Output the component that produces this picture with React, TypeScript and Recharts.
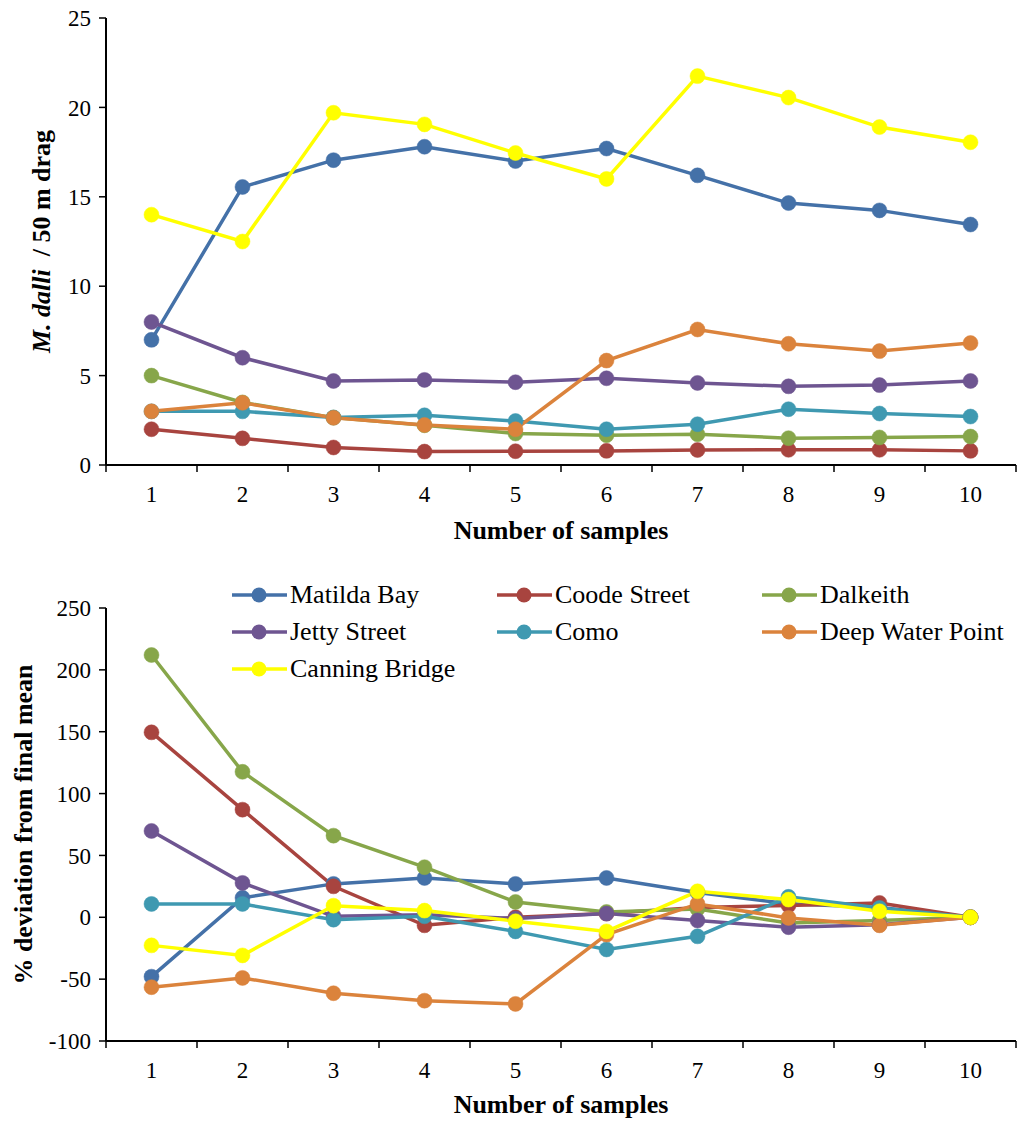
import React from 'react';
import { LineChart, Line, XAxis, YAxis } from 'recharts';

const FONT = '"Liberation Serif", "Times New Roman", serif';

// x categories (sample number) and half-step positions for the tick marks between them
const samples = [1, 2, 3, 4, 5, 6, 7, 8, 9, 10];
const xTicks = [0.5, 1, 1.5, 2, 2.5, 3, 3.5, 4, 4.5, 5, 5.5, 6, 6.5, 7, 7.5, 8, 8.5, 9, 9.5, 10, 10.5];

const siteNames = ['Matilda Bay', 'Coode Street', 'Dalkeith', 'Jetty Street', 'Como', 'Deep Water Point', 'Canning Bridge'];
const siteColors = ['#4471A8', '#A8443F', '#87A64A', '#6E5591', '#3F99B1', '#DB833C', '#FFFF00'];

// top panel: M. dalli / 50 m drag
const meanMatilda = [7, 15.55, 17.05, 17.8, 17, 17.7, 16.2, 14.65, 14.24, 13.45];
const meanCoode = [2, 1.49, 0.98, 0.75, 0.77, 0.79, 0.84, 0.85, 0.85, 0.79];
const meanDalkeith = [5, 3.5, 2.65, 2.22, 1.76, 1.67, 1.72, 1.5, 1.54, 1.59];
const meanJetty = [8, 6, 4.7, 4.76, 4.63, 4.85, 4.59, 4.4, 4.47, 4.7];
const meanComo = [3, 3, 2.66, 2.78, 2.46, 2, 2.28, 3.12, 2.88, 2.71];
const meanDeep = [3, 3.48, 2.64, 2.24, 2, 5.84, 7.58, 6.78, 6.37, 6.82];
const meanCanning = [14, 12.5, 19.7, 19.05, 17.45, 16, 21.75, 20.55, 18.9, 18.05];

// bottom panel: % deviation from final mean
const devMatilda = [-48, 15.7, 27, 31.8, 27, 31.8, 20, 11, 8, 0];
const devCoode = [149.5, 87, 25, -6.5, 0, 3, 8, 9.5, 11.6, 0];
const devDalkeith = [212, 117.6, 66, 40.5, 12.4, 4.3, 6.7, -4.6, -2.6, 0];
const devJetty = [69.8, 27.8, 0.8, 2, -1, 3, -2.6, -8, -6, 0];
const devComo = [10.8, 10.8, -1.9, 0.8, -11.4, -26, -15.4, 16.5, 7.5, 0];
const devDeep = [-56.5, -49, -61.4, -67.4, -70, -14, 10.8, -0.5, -6.5, 0];
const devCanning = [-22.7, -30.8, 9.4, 5.4, -3.2, -11.4, 21, 14.3, 4.9, 0];

const topTicks = [0, 5, 10, 15, 20, 25];
const bottomTicks = [-100, -50, 0, 50, 100, 150, 200, 250];

const keys = ['s0', 's1', 's2', 's3', 's4', 's5', 's6'];

const buildRows = (series: number[][]) =>
  samples.map((n, i) => {
    const row: any = { n };
    series.forEach((s, k) => {
      row[keys[k]] = s[i];
    });
    return row;
  });

const topData = buildRows([meanMatilda, meanCoode, meanDalkeith, meanJetty, meanComo, meanDeep, meanCanning]);
const bottomData = buildRows([devMatilda, devCoode, devDalkeith, devJetty, devComo, devDeep, devCanning]);

// integer ticks get a label, half ticks get a short tick mark (Excel style between categories)
const XTick = (props: any) => {
  const { x, y, payload } = props;
  const v = payload.value;
  if (Number.isInteger(v)) {
    return (
      <text x={x} y={y + 37} textAnchor="middle" fontSize={23} fontFamily={FONT} fill="#000">
        {v}
      </text>
    );
  }
  return <line x1={x} x2={x} y1={y} y2={y + 7} stroke="#000" strokeWidth={1.5} />;
};

const TopYLabel = (props: any) => {
  const vb = props.viewBox;
  const cx = 41;
  const cy = vb.y + vb.height / 2;
  return (
    <text
      x={cx}
      y={cy}
      transform={`rotate(-90, ${cx}, ${cy})`}
      textAnchor="middle"
      dominantBaseline="central"
      fontSize={26}
      fontWeight="bold"
      fontFamily={FONT}
      fill="#000"
    >
      <tspan fontStyle="italic">M. dalli</tspan>
      <tspan xmlSpace="preserve">{'  / 50 m drag'}</tspan>
    </text>
  );
};

const BottomYLabel = (props: any) => {
  const vb = props.viewBox;
  const cx = 23;
  const cy = vb.y + vb.height / 2;
  return (
    <text
      x={cx}
      y={cy}
      transform={`rotate(-90, ${cx}, ${cy})`}
      textAnchor="middle"
      dominantBaseline="central"
      fontSize={26}
      fontWeight="bold"
      fontFamily={FONT}
      fill="#000"
    >
      % deviation from final mean
    </text>
  );
};

const renderLines = () =>
  keys.map((k, i) => (
    <Line
      key={k}
      dataKey={k}
      name={siteNames[i]}
      stroke={siteColors[i]}
      strokeWidth={3.5}
      dot={{ r: 7.5, fill: siteColors[i], stroke: siteColors[i], strokeWidth: 0.5 }}
      isAnimationActive={false}
    />
  ));

const axisTitle = {
  value: 'Number of samples',
  position: 'insideBottom' as const,
  offset: 6,
  fontSize: 26,
  fontWeight: 'bold',
  fontFamily: FONT,
  fill: '#000',
};

const Legend = () => (
  <div style={{ position: 'absolute', left: 232, top: 576, width: 790, fontFamily: FONT, fontSize: 26 }}>
    {siteNames.map((name, i) => (
      <div
        key={name}
        style={{
          position: 'absolute',
          left: (i % 3) * 265,
          top: Math.floor(i / 3) * 37,
          height: 37,
          display: 'flex',
          alignItems: 'center',
          whiteSpace: 'nowrap',
          color: '#000',
        }}
      >
        <svg width={55} height={20} style={{ marginRight: 3 }}>
          <line x1={0} x2={55} y1={10} y2={10} stroke={siteColors[i]} strokeWidth={3.5} />
          <circle cx={27} cy={10} r={7.5} fill={siteColors[i]} />
        </svg>
        {name}
      </div>
    ))}
  </div>
);

export default function App() {
  return (
    <div style={{ position: 'absolute', left: 0, top: 0, width: 1017, height: 1122, background: '#fff' }}>
      <div style={{ position: 'absolute', left: 0, top: 0 }}>
        <LineChart width={1017} height={560} data={topData} margin={{ top: 18, right: 1, bottom: 15, left: 0 }}>
          <XAxis
            dataKey="n"
            type="number"
            domain={[0.5, 10.5]}
            ticks={xTicks}
            interval={0}
            tick={<XTick />}
            tickLine={false}
            tickSize={0}
            tickMargin={0}
            axisLine={{ stroke: '#000', strokeWidth: 2 }}
            height={80}
            label={axisTitle}
          />
          <YAxis
            domain={[0, 25]}
            ticks={topTicks}
            interval={0}
            width={106}
            tick={{ fill: '#000', fontSize: 23, fontFamily: FONT }}
            tickSize={7}
            tickMargin={8}
            tickLine={{ stroke: '#000', strokeWidth: 1.5 }}
            axisLine={{ stroke: '#000', strokeWidth: 2 }}
            label={<TopYLabel />}
          />
          {renderLines()}
        </LineChart>
      </div>
      <div style={{ position: 'absolute', left: 0, top: 560 }}>
        <LineChart width={1017} height={562} data={bottomData} margin={{ top: 48, right: 1, bottom: 3, left: 0 }}>
          <XAxis
            dataKey="n"
            type="number"
            domain={[0.5, 10.5]}
            ticks={xTicks}
            interval={0}
            tick={<XTick />}
            tickLine={false}
            tickSize={0}
            tickMargin={0}
            axisLine={{ stroke: '#000', strokeWidth: 2 }}
            height={78}
            label={axisTitle}
          />
          <YAxis
            domain={[-100, 250]}
            ticks={bottomTicks}
            interval={0}
            width={106}
            tick={{ fill: '#000', fontSize: 23, fontFamily: FONT }}
            tickSize={7}
            tickMargin={8}
            tickLine={{ stroke: '#000', strokeWidth: 1.5 }}
            axisLine={{ stroke: '#000', strokeWidth: 2 }}
            label={<BottomYLabel />}
          />
          {renderLines()}
        </LineChart>
      </div>
      <Legend />
    </div>
  );
}
